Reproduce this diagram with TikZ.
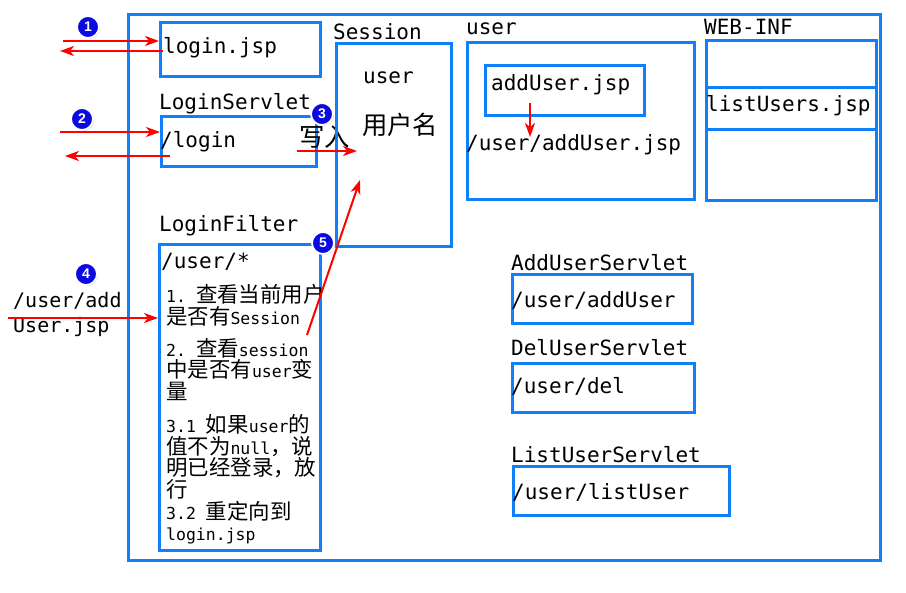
\documentclass[tikz,border=0pt]{standalone}
\usepackage{fontspec}
\usepackage{tikz}
\usetikzlibrary{arrows.meta,shadows}
\setmonofont{DejaVu Sans Mono}
\newfontfamily\cjk[Scale=1.3]{Noto Sans CJK SC}
\newfontfamily\numfont{Liberation Sans}
\definecolor{boxblue}{RGB}{16,128,250}
\definecolor{numblue}{RGB}{10,10,225}
\lineskiplimit=-20pt

\begin{document}
\begin{tikzpicture}[x=1pt,y=-1pt,
	box/.style ={draw=boxblue, line width=2.6pt, anchor=north west, inner sep=0pt},
	tt/.style ={anchor=west, inner sep=0pt, font=\ttfamily\fontsize{21}{25}\selectfont},
	small/.style ={anchor=north west, inner sep=0pt, align=left, font=\ttfamily\fontsize{16.5}{21.7}\selectfont},
	num/.style ={circle, fill=numblue, draw=white, line width=1.8pt, minimum size=22pt, inner sep=0pt,
		text=white, font=\numfont\bfseries\fontsize{14}{14}\selectfont,
		drop shadow={shadow xshift=1pt, shadow yshift=-1pt, opacity=0.4}},
	arr/.style ={-{Stealth[length=14pt,width=10pt,inset=4pt]}, red, line width=2pt}]
	\useasboundingbox (0,0) rectangle (906,593);
	% outer box
	\node[box, minimum width=752, minimum height=546] (web) at (127,13) {};
	% login.jsp
	\node[box, minimum width=160, minimum height=54] (jspbox) at (159,21) {};
	\node[tt] (jsp) at (163,48) {login.jsp};
	% LoginServlet
	\node[tt] (lslbl) at (159,104) {LoginServlet};
	\node[box, minimum width=155, minimum height=50] (lsbox) at (160,115) {};
	\node[tt] (lsurl) at (160,142) {/login};
	\node[anchor=west, inner sep=0pt, font=\fontsize{19.5}{24}\selectfont\cjk] (write) at (299,137) {写入};
	% Session
	\node[tt] (seslbl) at (333,32) {Session};
	\node[box, minimum width=115, minimum height=203] (sesbox) at (335,42) {};
	\node[tt] (sesuser) at (363,78) {user};
	\node[anchor=west, inner sep=0pt, font=\fontsize{19.5}{24}\selectfont\cjk] (uname) at (362,125) {用户名};
	% LoginFilter
	\node[tt] (lflbl) at (159,226) {LoginFilter};
	\node[box, minimum width=161, minimum height=306] (lfbox) at (158,243) {};
	\node[tt] (lfurl) at (161,262) {/user/*};
	\node[small] (lftxt) at (166,284) {1. {\cjk 查看当前用户}\\
		{\cjk 是否有}Session\\[10.5pt]
		2. {\cjk 查看}session\\
		{\cjk 中是否有}user{\cjk 变}\\
		{\cjk 量}\\[11pt]
		3.1 {\cjk 如果}user{\cjk 的}\\
		{\cjk 值不为}null{\cjk ，说}\\
		{\cjk 明已经登录，放}\\
		{\cjk 行}\\
		3.2 {\cjk 重定向到}\\
		login.jsp};
	% request
	\node[anchor=west, inner sep=0pt, align=left, font=\ttfamily\fontsize{20}{25}\selectfont] (req) at (13,314) {/user/add\\User.jsp};
	% user folder
	\node[tt] (uflbl) at (466,29) {user};
	\node[box, minimum width=227, minimum height=157] (ufbox) at (466,41) {};
	\node[box, minimum width=159, minimum height=50] (addbox) at (484,64) {};
	\node[tt] (addjsp) at (491,85) {addUser.jsp};
	\node[tt] (addpath) at (466,145) {/user/addUser.jsp};
	% WEB-INF
	\node[tt] (wilbl) at (704,27) {WEB-INF};
	\node[box, minimum width=170, minimum height=47] (wi1) at (705,39) {};
	\node[box, minimum width=170, minimum height=42] (wi2) at (705,86) {};
	\node[box, minimum width=170, minimum height=71] (wi3) at (705,128) {};
	\node[tt] (listjsp) at (706,106) {listUsers.jsp};
	% servlets
	\node[tt] (auslbl) at (511,263) {AddUserServlet};
	\node[box, minimum width=180, minimum height=49] (ausbox) at (511,273) {};
	\node[tt] (ausurl) at (511,300) {/user/addUser};
	\node[tt] (duslbl) at (511,348) {DelUserServlet};
	\node[box, minimum width=182, minimum height=49] (dusbox) at (511,362) {};
	\node[tt] (dusurl) at (511,386) {/user/del};
	\node[tt] (luslbl) at (511,455) {ListUserServlet};
	\node[box, minimum width=216, minimum height=49] (lusbox) at (512,465) {};
	\node[tt] (lusurl) at (512,492) {/user/listUser};
	% steps
	\node[num] (n1) at (88,27) {1};
	\node[num] (n2) at (82,119) {2};
	\node[num] (n3) at (322,114) {3};
	\node[num] (n4) at (86,274) {4};
	\node[num] (n5) at (323,243) {5};
	% arrows
	\coordinate (in1) at (63,41);
	\coordinate (out1) at (60,51);
	\coordinate (in2) at (60,132);
	\coordinate (out2s) at (170,156);
	\coordinate (out2) at (65,156);
	\coordinate (in4) at (8,318);
	\coordinate (wr1) at (297,151);
	\coordinate (wr2) at (357,151);
	\coordinate (chk1) at (307,335);
	\coordinate (chk2) at (360,180);
	\coordinate (fw1) at (530,103);
	\coordinate (fw2) at (530,137);
	\draw[arr] (in1)--(jspbox.west |- in1);
	\draw[arr] (jsp.west |- out1)--(out1);
	\draw[arr] (in2)--(lsbox.west |- in2);
	\draw[arr] (out2s)--(out2);
	\draw[arr] (wr1)--(wr2);
	\draw[arr] (in4)--(lfbox.west |- in4);
	\draw[arr] (chk1)--(chk2);
	\draw[arr] (fw1)--(fw2);
\end{tikzpicture}
\end{document}
